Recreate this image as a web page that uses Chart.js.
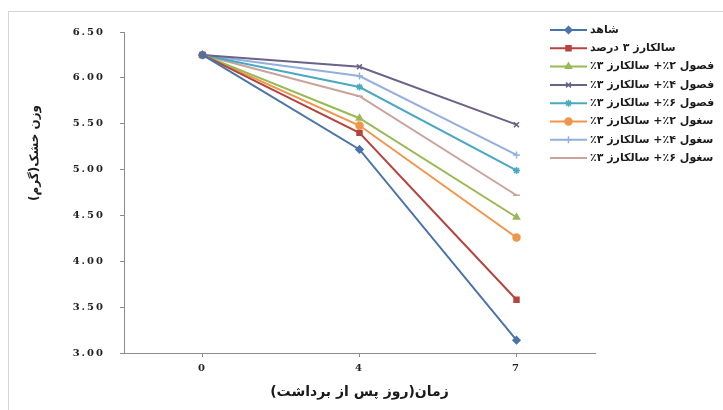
<!DOCTYPE html>
<html lang="fa">
<head>
<meta charset="utf-8">
<style>
  html, body { margin: 0; padding: 0; background: #ffffff; }
  #wrap { width: 723px; height: 410px; position: relative; }
  canvas { display: block; }
</style>
<script src="https://cdn.jsdelivr.net/npm/chart.js@4.4.1/dist/chart.umd.min.js"></script>
</head>
<body>
<div id="wrap"><canvas id="c" width="723" height="410"></canvas></div>
<script>
// Days after harvest
const days = ['0', '4', '7'];

// Dry weight (g) per treatment
const control      = [6.25, 5.22, 3.14];
const salcarz3     = [6.25, 5.40, 3.58];
const fosul2       = [6.25, 5.56, 4.48];
const fosul4       = [6.25, 6.12, 5.49];
const fosul6       = [6.25, 5.90, 4.99];
const soghul2      = [6.25, 5.48, 4.26];
const soghul4      = [6.25, 6.02, 5.16];
const soghul6      = [6.25, 5.80, 4.72];

const seriesNames = [
  'شاهد',
  'سالکارز ۳ درصد',
  'فصول ۲٪+ سالکارز ۳٪',
  'فصول ۴٪+ سالکارز ۳٪',
  'فصول ۶٪+ سالکارز ۳٪',
  'سغول ۲٪+ سالکارز ۳٪',
  'سغول ۴٪+ سالکارز ۳٪',
  'سغول ۶٪+ سالکارز ۳٪'
];
const seriesValues = [control, salcarz3, fosul2, fosul4, fosul6, soghul2, soghul4, soghul6];
const seriesColors = ['#4a74a8', '#b5443f', '#98b954', '#6c6188', '#4aa9c2', '#f0954a', '#93b0dc', '#caa49c'];
const seriesMarkers = ['rectRot', 'rect', 'triangle', 'crossRot', 'star', 'circle', 'cross', 'line'];

const yTitle = 'وزن خشک(گرم)';
const xTitle = 'زمان(روز پس از برداشت)';

const datasets = seriesNames.map((name, i) => ({
  label: name,
  data: seriesValues[i],
  borderColor: seriesColors[i],
  backgroundColor: seriesColors[i],
  pointBorderColor: seriesColors[i],
  pointBackgroundColor: seriesColors[i],
  borderWidth: 2,
  pointStyle: seriesMarkers[i],
  pointRadius: 3.5,
  pointBorderWidth: 1.5,
  tension: 0
}));

const arabicFont = '"DejaVu Sans", sans-serif';

// Frame around the whole figure; wide spacing for the numeric tick labels
const framePlugin = {
  id: 'frame',
  beforeDraw(chart) {
    const ctx = chart.ctx;
    ctx.save();
    ctx.fillStyle = '#ffffff';
    ctx.fillRect(0, 0, chart.width, chart.height);
    ctx.strokeStyle = '#d4d4d4';
    ctx.lineWidth = 1;
    ctx.strokeRect(8.5, 11.5, chart.width + 20, chart.height + 20);
    ctx.restore();
    ctx.letterSpacing = '2px';
  },
  beforeDatasetsDraw(chart) {
    chart.ctx.letterSpacing = '0px';
  }
};

// Legend and axis titles
const annotatePlugin = {
  id: 'annotate',
  afterDraw(chart) {
    const ctx = chart.ctx;
    ctx.save();
    ctx.letterSpacing = '0px';
    chart.data.datasets.forEach((ds, i) => {
      const y = 30 + i * 18.3;
      ctx.strokeStyle = ds.borderColor;
      ctx.lineWidth = 2;
      ctx.beginPath();
      ctx.moveTo(550, y);
      ctx.lineTo(587, y);
      ctx.stroke();
      if (ds.pointStyle !== 'line') {
        ctx.fillStyle = ds.pointBackgroundColor;
        ctx.strokeStyle = ds.pointBorderColor;
        ctx.lineWidth = 1.5;
        Chart.helpers.drawPoint(ctx, { pointStyle: ds.pointStyle, radius: 3.5, rotation: 0, borderWidth: 1.5 }, 568.5, y);
      }
      ctx.fillStyle = '#1a1a1a';
      ctx.font = 'bold 11px ' + arabicFont;
      ctx.direction = 'rtl';
      ctx.textAlign = 'left';
      ctx.textBaseline = 'middle';
      ctx.fillText(ds.label, 590, y);
    });

    ctx.fillStyle = '#1a1a1a';
    ctx.direction = 'rtl';
    ctx.textAlign = 'center';
    ctx.textBaseline = 'middle';
    ctx.font = 'bold 14px ' + arabicFont;
    ctx.fillText(xTitle, (chart.chartArea.left + chart.chartArea.right) / 2, 392);

    ctx.translate(35, 153);
    ctx.rotate(-Math.PI / 2);
    ctx.font = 'bold 12px ' + arabicFont;
    ctx.fillText(yTitle, 0, 0);
    ctx.restore();
  }
};

new Chart(document.getElementById('c'), {
  type: 'line',
  data: { labels: days, datasets },
  plugins: [framePlugin, annotatePlugin],
  options: {
    responsive: false,
    animation: false,
    devicePixelRatio: 1,
    layout: { padding: { left: 0, top: 32, right: 128, bottom: 0 } },
    plugins: {
      legend: { display: false },
      tooltip: { enabled: false }
    },
    scales: {
      x: {
        type: 'category',
        offset: true,
        afterFit(scale) { scale.height = 57; },
        grid: { display: true, drawOnChartArea: false, drawTicks: true, tickLength: 4, color: '#8c8c8c' },
        border: { display: true, color: '#8c8c8c', width: 1 },
        ticks: {
          padding: 5,
          color: '#222',
          font: { family: '"DejaVu Serif", serif', weight: 'bold', size: 10 }
        }
      },
      y: {
        min: 3.0,
        max: 6.5,
        afterFit(scale) { scale.width = 124; },
        grid: { display: true, drawOnChartArea: false, drawTicks: true, tickLength: 4, color: '#8c8c8c' },
        border: { display: true, color: '#8c8c8c', width: 1 },
        ticks: {
          stepSize: 0.5,
          padding: 15,
          color: '#222',
          font: { family: '"DejaVu Serif", serif', weight: 'bold', size: 10 },
          callback: (v) => Number(v).toFixed(2)
        }
      }
    }
  }
});
</script>
</body>
</html>
